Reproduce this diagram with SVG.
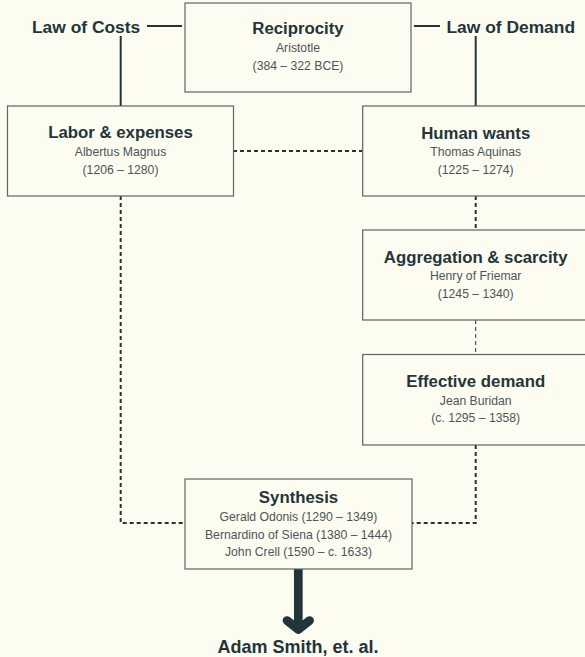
<svg xmlns="http://www.w3.org/2000/svg" width="585" height="657" viewBox="0 0 585 657">
<style>
.bg{fill:#fdfcf1}
.box{fill:#fdfcf1;stroke:#5b6567;stroke-width:1.2}
.t{font-family:"Liberation Sans",Arial,sans-serif;font-weight:bold;font-size:16.8px;fill:#23353a;text-anchor:middle}
.s{font-family:"Liberation Sans",Arial,sans-serif;font-size:12.2px;fill:#4a5659;text-anchor:middle}
.lbl{font-family:"Liberation Sans",Arial,sans-serif;font-weight:bold;font-size:17.4px;fill:#23353a}
.solid{stroke:#23353a;stroke-width:2;fill:none}
.dot{stroke:#23353a;stroke-width:2;fill:none;stroke-dasharray:4 3}
.thin{stroke:#23353a;stroke-width:1;fill:none;stroke-dasharray:4 3}
.big{stroke:#23353a;stroke-width:8.7;fill:none;stroke-linecap:round;stroke-linejoin:round}
</style>
<rect class="bg" x="0" y="0" width="585" height="657"/>
<g id="connectors">
<line class="solid" x1="147" y1="26" x2="182" y2="26"/>
<line class="solid" x1="414" y1="26" x2="440" y2="26"/>
<line class="solid" x1="120.7" y1="36" x2="120.7" y2="106"/>
<line class="solid" x1="475.7" y1="36" x2="475.7" y2="106"/>
<line class="dot" x1="233" y1="151" x2="362.7" y2="151"/>
<line class="dot" x1="475.7" y1="196" x2="475.7" y2="230"/>
<line class="thin" x1="475.7" y1="320" x2="475.7" y2="354"/>
<polyline class="dot" points="475.7,445 475.7,523 412,523"/>
<polyline class="dot" points="120.7,196 120.7,523 185,523"/>
<line class="big" x1="298.3" y1="569" x2="298.3" y2="626" style="stroke-linecap:butt"/>
<polyline class="big" points="287,620.5 298.3,629.5 309.6,620.5"/>
</g>
<g id="law-costs"><text class="lbl" x="32" y="33">Law of Costs</text></g>
<g id="law-demand"><text class="lbl" x="446.5" y="33">Law of Demand</text></g>
<g id="reciprocity">
<rect class="box" x="185" y="3" width="226" height="89"/>
<text class="t" x="298" y="34">Reciprocity</text>
<text class="s" x="298" y="52">Aristotle</text>
<text class="s" x="298" y="70">(384 – 322 BCE)</text>
</g>
<g id="labor">
<rect class="box" x="7.5" y="106" width="226" height="90"/>
<text class="t" x="120.5" y="138">Labor &amp; expenses</text>
<text class="s" x="120.5" y="156">Albertus Magnus</text>
<text class="s" x="120.5" y="174">(1206 – 1280)</text>
</g>
<g id="human-wants">
<rect class="box" x="362.7" y="106" width="226" height="90"/>
<text class="t" x="475.7" y="139">Human wants</text>
<text class="s" x="475.7" y="156">Thomas Aquinas</text>
<text class="s" x="475.7" y="174">(1225 – 1274)</text>
</g>
<g id="aggregation">
<rect class="box" x="362.7" y="230" width="226" height="90"/>
<text class="t" x="475.7" y="263">Aggregation &amp; scarcity</text>
<text class="s" x="475.7" y="280">Henry of Friemar</text>
<text class="s" x="475.7" y="297.5">(1245 – 1340)</text>
</g>
<g id="effective">
<rect class="box" x="362.7" y="354.5" width="226" height="90.5"/>
<text class="t" x="475.7" y="387">Effective demand</text>
<text class="s" x="475.7" y="405">Jean Buridan</text>
<text class="s" x="475.7" y="422">(c. 1295 – 1358)</text>
</g>
<g id="synthesis">
<rect class="box" x="185" y="479" width="227" height="90"/>
<text class="t" x="298.5" y="503">Synthesis</text>
<text class="s" x="298.5" y="521">Gerald Odonis (1290 – 1349)</text>
<text class="s" x="298.5" y="538.5">Bernardino of Siena (1380 – 1444)</text>
<text class="s" x="298.5" y="556">John Crell (1590 – c. 1633)</text>
</g>
<g id="adam-smith"><text class="lbl" x="298" y="653" text-anchor="middle" style="font-size:18px">Adam Smith, et. al.</text></g>
</svg>
